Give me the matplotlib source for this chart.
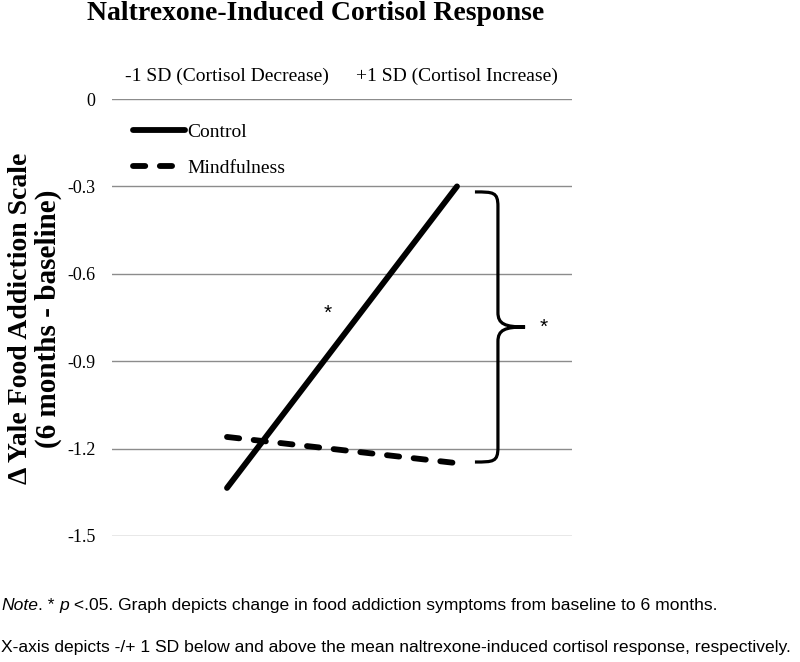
import matplotlib
matplotlib.use("Agg")
import matplotlib.pyplot as plt
from matplotlib.path import Path
import matplotlib.patches as mpatches

# data
conditions = ["-1 SD (Cortisol Decrease)", "+1 SD (Cortisol Increase)"]
control = [-1.335, -0.30]
mindfulness = [-1.16, -1.25]
y_ticks = [0, -0.3, -0.6, -0.9, -1.2, -1.5]
y_ticklabels = ["0", "-0.3", "-0.6", "-0.9", "-1.2", "-1.5"]

serif = ["Liberation Serif", "DejaVu Serif"]
narrow = ["Liberation Sans Narrow", "Liberation Sans", "DejaVu Sans"]

fig = plt.figure(figsize=(8, 6.62), dpi=100)
ax = fig.add_axes([112 / 800, 1 - 536 / 662, 460 / 800, 437 / 662])

x = list(range(len(conditions)))
ax.plot(x, control, color="black", lw=4.2, solid_capstyle="round", label="Control")
ax.plot(x, mindfulness, color="black", lw=4.2, dashes=(2.1, 2.5),
        dash_capstyle="round", label="Mindfulness")

ax.set_xlim(-0.5, 1.5)
ax.set_ylim(-1.5, 0)
ax.set_yticks(y_ticks)
ax.set_yticklabels(y_ticklabels, fontfamily=serif, fontsize=13)
ax.set_xticks(x)
ax.set_xticklabels(conditions, fontfamily=serif, fontsize=14)
ax.xaxis.tick_top()
ax.tick_params(axis="both", length=0)
ax.tick_params(axis="y", pad=12)
ax.tick_params(axis="x", pad=10)
for s in ax.spines.values():
    s.set_visible(False)
ax.grid(axis="y", color="#8c8c8c", lw=1.0)
ax.set_axisbelow(True)

# two-line y label, placed line by line
ylab_kw = dict(fontfamily=serif, fontweight="bold", rotation=90,
               ha="center", va="center")
fig.text(21 / 800, 1 - 318 / 662, "\u0394 Yale Food Addiction Scale", fontsize=20, **ylab_kw)
fig.text(48 / 800, 1 - 319 / 662, "(6 months - baseline)", fontsize=21, **ylab_kw)

leg = ax.legend(loc="upper left", bbox_to_anchor=(0.045, 0.944), frameon=False,
                prop={"family": serif, "size": 14}, handlelength=2.7,
                handletextpad=0.12, labelspacing=0.95, borderpad=0, borderaxespad=0)

# brace on the right side of the +1 SD point
bx, bl, tip = 1.178, 1.078, 1.296
ytop, ybot = -0.319, -1.246
ymid = (ytop + ybot) / 2
r = 0.05
verts = [
    (bl, ytop), (bx - 0.02, ytop), (bx, ytop), (bx, ytop - r),
    (bx, ymid + r),
    (bx, ymid + 0.01), (bx + 0.03, ymid), (tip, ymid),
    (bx + 0.03, ymid), (bx, ymid - 0.01), (bx, ymid - r),
    (bx, ybot + r),
    (bx, ybot), (bx - 0.02, ybot), (bl, ybot),
]
codes = [Path.MOVETO, Path.CURVE4, Path.CURVE4, Path.CURVE4,
         Path.LINETO,
         Path.CURVE4, Path.CURVE4, Path.CURVE4,
         Path.CURVE4, Path.CURVE4, Path.CURVE4,
         Path.LINETO,
         Path.CURVE4, Path.CURVE4, Path.CURVE4]
ax.add_patch(mpatches.PathPatch(Path(verts, codes), fill=False, lw=2.3,
                                edgecolor="black", clip_on=False))
ax.text(1.378, ymid, "*", fontsize=15, fontfamily=narrow, ha="center", va="center")
ax.text(0.439, -0.735, "*", fontsize=15, fontfamily=narrow, ha="center", va="center")

fig.text(316 / 800, 1 - 13 / 662, "Naltrexone-Induced Cortisol Response",
         fontfamily=serif, fontsize=20, fontweight="bold", ha="center", va="center")

# notes under the chart
note_kw = dict(fontfamily=narrow, fontsize=12.6)
t = fig.text(1 / 800, 1 - 613 / 662, "Note", style="italic", va="bottom", **note_kw)
for piece, sty in [(". * ", "normal"), ("p", "italic"),
                   (" <.05. Graph depicts change in food addiction symptoms from baseline to 6 months.", "normal")]:
    t = ax.annotate(piece, xy=(1, 0), xycoords=t, va="bottom", ha="left",
                    style=sty, annotation_clip=False, **note_kw)
fig.text(1 / 800, 1 - 655 / 662,
         "X-axis depicts -/+ 1 SD below and above the mean naltrexone-induced cortisol response, respectively.",
         va="bottom", **note_kw)

fig.savefig("out.png", dpi=100)
